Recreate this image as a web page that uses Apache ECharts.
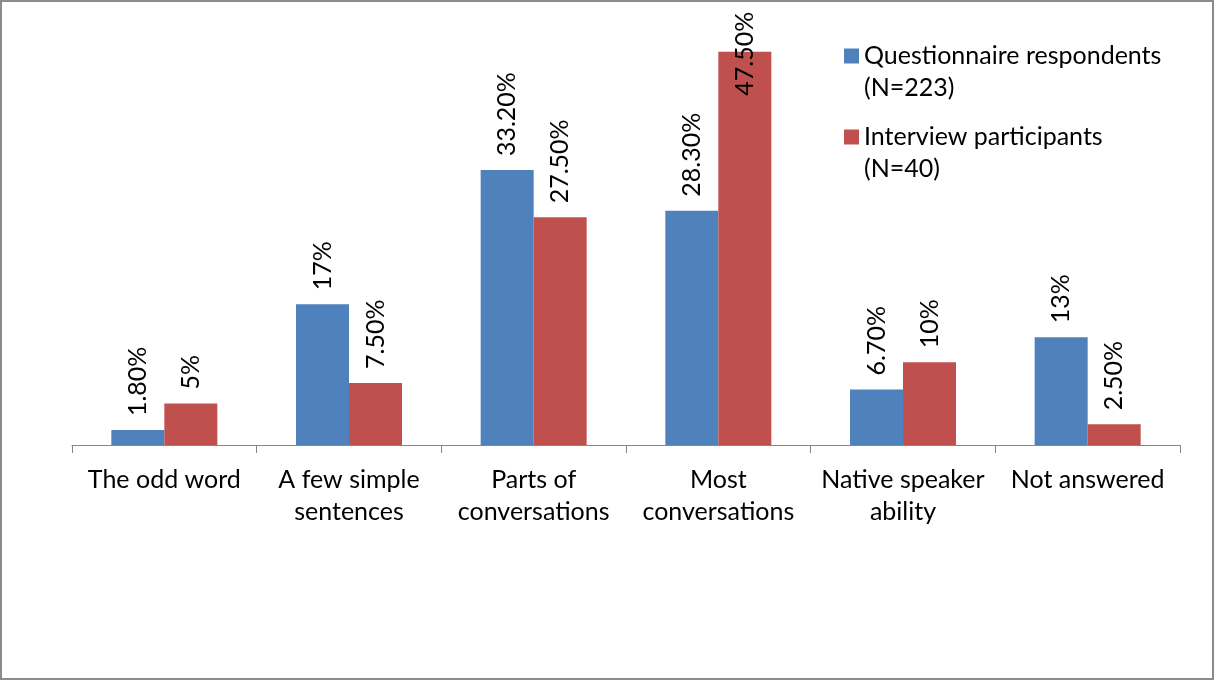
<!DOCTYPE html>
<html>
<head>
<meta charset="utf-8">
<script src="https://cdn.jsdelivr.net/npm/echarts@6/dist/echarts.min.js"></script>
<style>
html,body{margin:0;padding:0;background:#fff;}
#chart{width:1215px;height:681px;}
</style>
</head>
<body>
<div id="chart"></div>
<script>
const categories = ["The odd word", "A few simple\nsentences", "Parts of\nconversations", "Most\nconversations", "Native speaker\nability", "Not answered"];
const questionnaireValues = [1.8, 17, 33.2, 28.3, 6.7, 13];
const interviewValues = [5, 7.5, 27.5, 47.5, 10, 2.5];
const questionnaireLabels = ["1.80%", "17%", "33.20%", "28.30%", "6.70%", "13%"];
const interviewLabels = ["5%", "7.50%", "27.50%", "47.50%", "10%", "2.50%"];
const seriesNames = ["Questionnaire respondents\n(N=223)", "Interview participants\n(N=40)"];

const FONT = 'Lato';
const FS = 25;
const chart = echarts.init(document.getElementById('chart'));

function makeData(values, labels) {
  return values.map((v, i) => {
    const d = { value: v };
    if (v > 45) {
      d.label = { offset: [-58, 0] };
    }
    return d;
  });
}

const labelCfg = (labels) => ({
  show: true,
  position: 'top',
  rotate: 90,
  align: 'left',
  verticalAlign: 'middle',
  distance: 14,
  fontFamily: FONT,
  fontSize: FS,
  color: '#000',
  formatter: (p) => labels[p.dataIndex]
});

const legendText = {
  fontFamily: FONT,
  fontSize: FS,
  color: '#000',
  lineHeight: 32
};

const legendBase = {
  orient: 'vertical',
  left: 839,
  itemWidth: 15,
  itemHeight: 15,
  itemGap: 0,
  icon: 'rect',
  formatter: (name) => ' \n' + name,
  textStyle: legendText
};

chart.setOption({
  animation: false,
  backgroundColor: '#fff',
  grid: { left: 72, right: 35, top: 31, bottom: 236, containLabel: false },
  legend: [
    Object.assign({}, legendBase, { data: [seriesNames[0]], top: 3 }),
    Object.assign({}, legendBase, { data: [seriesNames[1]], top: 84 })
  ],
  xAxis: {
    type: 'category',
    data: categories,
    axisLine: { lineStyle: { color: '#868686', width: 1 } },
    axisTick: { show: true, length: 8, lineStyle: { color: '#868686' } },
    axisLabel: {
      interval: 0,
      fontFamily: FONT,
      fontSize: FS,
      color: '#000',
      lineHeight: 32,
      margin: 19
    }
  },
  yAxis: {
    type: 'value',
    min: 0,
    max: 50,
    show: false,
    splitLine: { show: false }
  },
  series: [
    {
      name: seriesNames[0],
      type: 'bar',
      data: makeData(questionnaireValues, questionnaireLabels),
      barWidth: 53,
      barGap: '0%',
      itemStyle: { color: '#4F81BD' },
      label: labelCfg(questionnaireLabels)
    },
    {
      name: seriesNames[1],
      type: 'bar',
      data: makeData(interviewValues, interviewLabels),
      barWidth: 53,
      barGap: '0%',
      itemStyle: { color: '#C0504D' },
      label: labelCfg(interviewLabels)
    }
  ],
  graphic: [
    {
      type: 'rect',
      shape: { x: 1, y: 1, width: 1212, height: 678 },
      style: { fill: 'none', stroke: '#8c8c8c', lineWidth: 2 },
      silent: true
    }
  ]
});
</script>
</body>
</html>
